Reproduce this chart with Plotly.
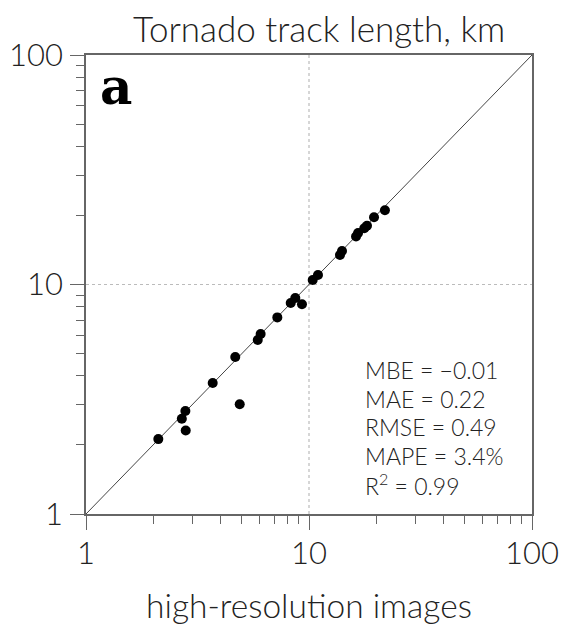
import plotly.graph_objects as go

# data
hires_x = [2.11, 2.69, 2.79, 2.80, 3.70, 4.89, 4.67, 5.89, 6.07, 7.21, 8.28, 8.68, 9.30,
           10.39, 10.97, 13.77, 14.06, 16.25, 16.6, 17.7, 18.2, 19.57, 21.9]
other_y = [2.12, 2.60, 2.81, 2.31, 3.72, 3.01, 4.83, 5.73, 6.09, 7.19, 8.31, 8.74, 8.20,
           10.46, 11.0, 13.45, 14.0, 16.2, 16.77, 17.58, 18.04, 19.63, 21.05]
one_to_one = [1, 100]
ref_value = 10
tick_vals = [1, 10, 100]
tick_text = ["1", "10", "100"]
minor_vals = [2, 3, 4, 5, 6, 7, 8, 9, 20, 30, 40, 50, 60, 70, 80, 90]
stats_lines = ["MBE = \u22120.01", "MAE = 0.22", "RMSE = 0.49", "MAPE = 3.4%", "R<sup>2</sup> = 0.99"]
title_text = "Tornado track length, km"
xlabel_text = "high-resolution images"
panel_label = "a"

W, H = 562, 625
L, R, T, B = 86, 30, 55, 111
pw, ph = W - L - R, H - T - B

def px(x):
    return (x - L) / pw

def py(y):
    return (H - B - y) / ph

FONT = "Lato"
axis_col = "#666666"
txt_col = "#222222"

fig = go.Figure()
fig.add_trace(go.Scatter(x=[ref_value, ref_value], y=one_to_one, mode="lines",
                         line=dict(color="#bbbbbb", width=1.2, dash="dot"), hoverinfo="skip"))
fig.add_trace(go.Scatter(x=one_to_one, y=[ref_value, ref_value], mode="lines",
                         line=dict(color="#bbbbbb", width=1.2, dash="dot"), hoverinfo="skip"))
fig.add_trace(go.Scatter(x=one_to_one, y=one_to_one, mode="lines",
                         line=dict(color="#444444", width=1), hoverinfo="skip"))
fig.add_trace(go.Scatter(x=hires_x, y=other_y, mode="markers",
                         marker=dict(color="black", size=10, line=dict(width=0))))

axis_common = dict(
    type="log", range=[0, 2], tickvals=tick_vals, ticktext=tick_text,
    ticks="outside", ticklen=14, tickwidth=1.2, tickcolor=axis_col,
    showline=True, linecolor=axis_col, linewidth=1.5, mirror=True,
    showgrid=False, zeroline=False, automargin=False,
    tickfont=dict(family=FONT, size=31, color=txt_col, weight=300),
    minor=dict(tickvals=minor_vals, ticks="outside", ticklen=8, tickwidth=1.2,
               tickcolor=axis_col, showgrid=False),
)
fig.update_xaxes(**axis_common, ticklabelstandoff=-3)
fig.update_yaxes(**axis_common, ticklabelstandoff=1)

ann = []
ann.append(dict(text=title_text, x=px(319), y=py(28), xref="paper", yref="paper",
                showarrow=False, xanchor="center", yanchor="middle",
                font=dict(family=FONT, size=35, color=txt_col, weight=300)))
ann.append(dict(text=xlabel_text, x=px(309), y=py(605), xref="paper", yref="paper",
                showarrow=False, xanchor="center", yanchor="middle",
                font=dict(family=FONT, size=33.5, color=txt_col, weight=300)))
ann.append(dict(text="<b>" + panel_label + "</b>", x=px(98), y=py(86), xref="paper", yref="paper",
                showarrow=False, xanchor="left", yanchor="middle",
                font=dict(family="DejaVu Serif", size=50, color="black")))
line_centers = [370, 398.5, 427, 455.5, 484]
for txt, yc in zip(stats_lines, line_centers):
    ann.append(dict(text=txt, x=px(363), y=py(yc), xref="paper", yref="paper",
                    showarrow=False, xanchor="left", yanchor="middle",
                    font=dict(family=FONT, size=23, color=txt_col, weight=300)))

fig.update_layout(
    width=W, height=H, margin=dict(l=L, r=R, t=T, b=B, autoexpand=False),
    paper_bgcolor="white", plot_bgcolor="white", showlegend=False,
    annotations=ann,
)
fig.write_html("out.html")
